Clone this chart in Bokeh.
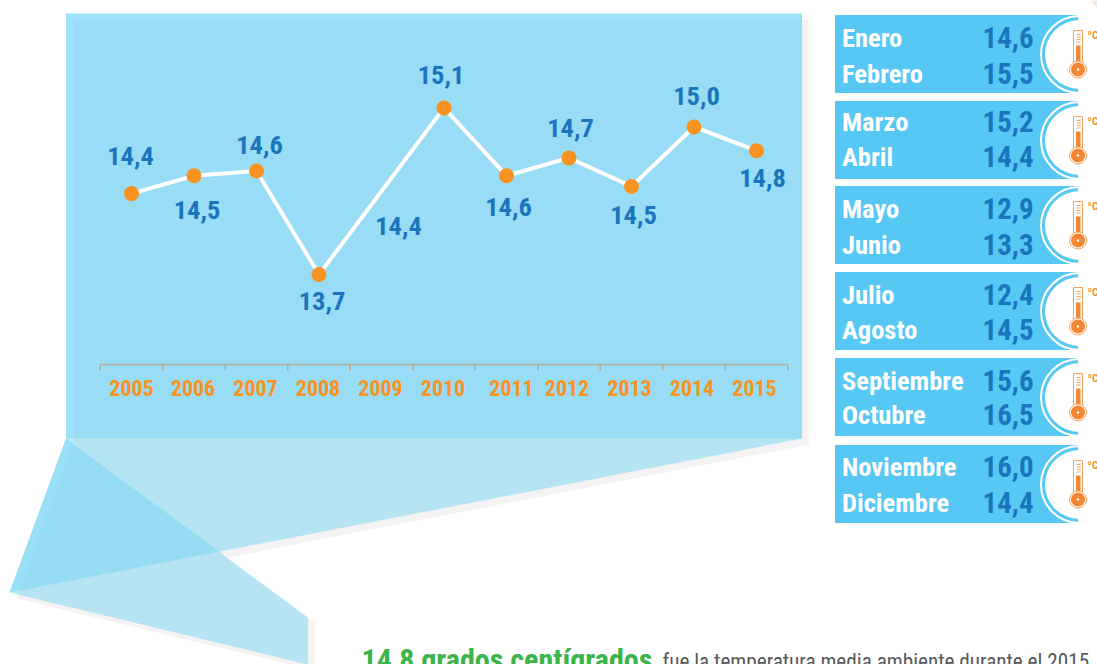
from bokeh.plotting import figure
from bokeh.embed import file_html
from bokeh.resources import INLINE
from bokeh.models import ColumnDataSource, Range1d
from bokeh.core.properties import value

# ---- data -----
years = [2005, 2006, 2007, 2008, 2009, 2010, 2011, 2012, 2013, 2014, 2015]
heights = [14.38, 14.53, 14.57, 13.70, 14.40, 15.10, 14.53, 14.68, 14.44, 14.94, 14.74]
labels = ["14,4", "14,5", "14,6", "13,7", "14,4", "15,1", "14,6", "14,7", "14,5", "15,0", "14,8"]
label_dx = [-1, 3, 3, 3, 17, -3, 2, 1.5, 2, 2.5, 6]
label_dy = [-38, 34, -26, 26, 35, -33, 31, -30, 29, -31, 27]
no_dot_years = [2009]
year_label_dx = [0, -1, -1, -1, -1, -1, 5, -2, -2, -2, -2]

months = ["Enero", "Febrero", "Marzo", "Abril", "Mayo", "Junio", "Julio", "Agosto",
          "Septiembre", "Octubre", "Noviembre", "Diciembre"]
month_values = ["14,6", "15,5", "15,2", "14,4", "12,9", "13,3", "12,4", "14,5",
                "15,6", "16,5", "16,0", "14,4"]
month_y = [37, 73, 121, 156, 208, 244, 294, 329, 380, 414, 466, 502]
row_top = [15, 101, 186, 272, 358, 445]
headline = "14,8 grados centígrados"
subline = "fue la temperatura media ambiente durante el 2015"

COND = value("Roboto Condensed")
BLUE_TXT = "#1B75BC"
ORANGE = "#F7931E"

W, H = 1097, 664
# data scales: one year = 62.5 px, one degree = 119 px
yr = lambda px: 2005 + (px - 131) / 62.5
tp = lambda py: 13.7 + (274 - py) / 119

p = figure(width=W, height=H, output_backend="svg", toolbar_location=None,
           x_range=Range1d(0, W), y_range=Range1d(H, 0),
           min_border=0, outline_line_color=None, background_fill_color="white",
           border_fill_color="white")
p.axis.visible = False
p.grid.visible = False
p.extra_x_ranges["year"] = Range1d(yr(0), yr(W))
p.extra_y_ranges["temp"] = Range1d(tp(H), tp(0))

# ---- panel, folded shapes and their shadows ----
panel = ([65.5, 801.5, 801.5, 65.5], [13, 13, 438, 438])
fold_a = ([65.5, 801.5, 9], [438, 438, 592])
fold_b = ([65.5, 307.5, 307.5, 9], [438, 617, 664, 592])
for xs, ys in (panel, fold_a, fold_b):
    p.patch([x + 7 for x in xs], [y + 6 for y in ys], color="#F3F3F3", line_color=None)
p.patch(*fold_a, fill_color="#63D0F4", fill_alpha=0.42, line_color=None)
p.patch(*fold_b, fill_color="#63D0F4", fill_alpha=0.42, line_color=None)
p.patch(*panel, fill_color="#4CC8F6", fill_alpha=0.55, line_color=None)
p.patch([1090, 1097, 1097], [0, 0, 8], color="#FBE5D6", line_color=None)

# ---- year axis drawn on the year scale ----
AX_Y = tp(364)
tick_years = [y - 0.5 for y in years] + [years[-1] + 0.5]
axkw = dict(x_range_name="year", y_range_name="temp", line_color="#B4AC98")
p.line([tick_years[0], tick_years[-1]], [AX_Y, AX_Y], line_width=1.5, **axkw)
p.segment(tick_years, [AX_Y] * len(tick_years), tick_years, [tp(370)] * len(tick_years),
          line_width=1.5, **axkw)
p.text(x=years, y=[tp(387)] * len(years), text=[str(y) for y in years],
       x_offset=year_label_dx, x_range_name="year", y_range_name="temp",
       text_color=ORANGE, text_font=COND, text_font_style="bold",
       text_font_size="22px", text_align="center", text_baseline="middle")

# ---- series ----
p.line(years, heights, x_range_name="year", y_range_name="temp",
       line_color="white", line_width=4, line_join="miter")
dots = [(y, h) for y, h in zip(years, heights) if y not in no_dot_years]
p.scatter([d[0] for d in dots], [d[1] for d in dots], x_range_name="year", y_range_name="temp",
          size=15, color=ORANGE, line_color=None)
src = ColumnDataSource(dict(x=years, y=heights, t=labels, dx=label_dx, dy=label_dy))
p.text(x="x", y="y", text="t", x_offset="dx", y_offset="dy", source=src,
       x_range_name="year", y_range_name="temp", text_color=BLUE_TXT, text_font=COND,
       text_font_style="bold", text_font_size="26.5px", text_align="center", text_baseline="middle")

# ---- month table ----
for top in row_top:
    cy = top + 39
    p.quad(left=834.5, right=1077.5, top=top - 0.5, bottom=top + 77.5, color="#56C8F3", line_color=None)
    p.circle(x=[1079], y=[cy], radius=34.5, color="white", line_color=None)
    p.circle(x=[1079], y=[cy], radius=38.5, fill_color=None, line_color="white", line_width=2)
    # thermometer
    p.quad(left=1073, right=1082, top=top + 15, bottom=top + 56, fill_color="white",
           line_color="#F7A35C", line_width=1)
    p.quad(left=1075.5, right=1080, top=top + 30, bottom=top + 56, color="#F58634", line_color=None)
    p.segment([1076] * 4, [top + 19 + 2.5 * i for i in range(4)],
              [1080] * 4, [top + 19 + 2.5 * i for i in range(4)], line_color="#F7A35C", line_width=1)
    p.circle(x=[1077.5], y=[top + 54], radius=8.5, fill_color="white", line_color="#F7A35C", line_width=1)
    p.circle(x=[1077.5], y=[top + 54], radius=7, color="#F58634", line_color=None)
    p.circle(x=[1077.5], y=[top + 54], radius=1.2, color="white", line_color=None)
    p.text(x=[1087], y=[top + 20], text=["ºC"], text_color=ORANGE, text_font=COND,
           text_font_style="bold", text_font_size="11px", text_baseline="middle")

p.text(x=[841.5] * 12, y=month_y, text=months, text_color="white", text_font=COND,
       text_font_style="bold", text_font_size="26.5px", text_baseline="middle")
p.text(x=[982] * 12, y=month_y, text=month_values, text_color=BLUE_TXT, text_font=COND,
       text_font_style="bold", text_font_size="29px", text_baseline="middle")

# ---- foot line ----
p.text(x=[361], y=[659], text=[headline], text_color="#39B54A", text_font=COND,
       text_font_style="bold", text_font_size="30px", text_baseline="alphabetic")
p.text(x=[662], y=[661], text=[subline], text_color="#58595B", text_font=COND,
       text_font_size="21.2px", text_baseline="alphabetic")

open("out.html", "w").write(file_html(p, INLINE))
